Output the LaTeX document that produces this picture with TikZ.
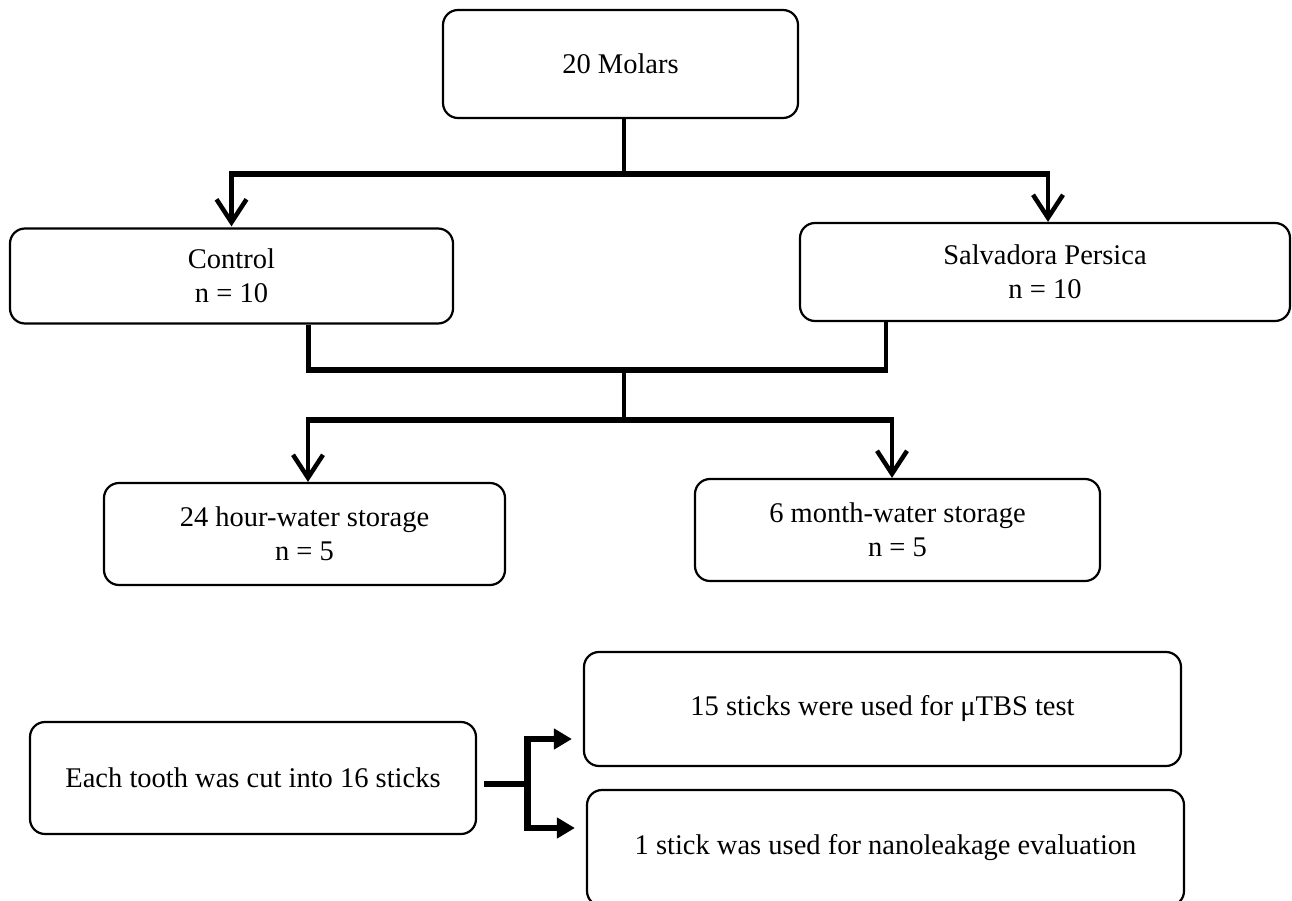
\documentclass[tikz,border=0pt]{standalone}
\usepackage{fontspec}
\setmainfont{Liberation Serif}
\usetikzlibrary{arrows.meta}
\tikzset{
  box/.style={draw, line width=2.2pt, rounded corners=15pt, align=center,
    inner sep=0pt, font=\fontsize{28.5}{34}\selectfont},
  conn/.style={line width=4.5pt},
  bar/.style={line width=6.5pt},
  varr/.style={conn, -{Straight Barb[length=23pt,width=30pt]}},
  tarr/.style={line width=6pt, -{Triangle[length=18pt,width=20pt]}, shorten >=11pt}
}
\begin{document}
\begin{tikzpicture}[x=1pt,y=-1pt]
\clip (0,0) rectangle (1292,901);
\fill[white] (0,0) rectangle (1292,901);
\node[box, minimum width=355pt, minimum height=108pt] (mol) at (620.5,64) {20 Molars};
\node[box, minimum width=443pt, minimum height=95pt] (ctl) at (231.5,276) {Control\\n = 10};
\node[box, minimum width=490pt, minimum height=98pt] (sal) at (1045,272) {Salvadora Persica\\n = 10};
\node[box, minimum width=401pt, minimum height=102pt] (h24) at (304.5,534) {24 hour-water storage\\n = 5};
\node[box, minimum width=405pt, minimum height=102pt] (m6) at (897.5,530) {6 month-water storage\\n = 5};
\node[box, minimum width=446pt, minimum height=112pt] (cut) at (253,778) {Each tooth was cut into 16 sticks};
\node[box, minimum width=597pt, minimum height=114pt] (s15) at (882.5,709) {15 sticks were used for μTBS test};
\node[box, minimum width=597pt, minimum height=116pt] (s1) at (885.5,848) {1 stick was used for nanoleakage evaluation};
% top split
\coordinate (j1) at (624,174);
\draw[conn] ([xshift=3.5pt]mol.south) -- (j1);
\draw[varr] ([xshift=2pt]j1) -| ([yshift=1pt]ctl.north);
\draw[varr] ([xshift=-2pt]j1) -| ([xshift=3pt]sal.north);
\draw[bar] ([xshift=-2.25pt]ctl.north |- j1) -- ([xshift=5.25pt]sal.north |- j1);
% merge
\coordinate (j2) at (624,370);
\coordinate (j3) at (624,420);
\draw[conn] ([xshift=77pt]ctl.south) |- (j2);
\draw[conn] ([xshift=-159pt]sal.south) |- (j2);
\draw[bar] ([xshift=74.75pt]ctl.south |- j2) -- ([xshift=-156.75pt]sal.south |- j2);
\draw[conn] (j2) -- (j3);
\draw[varr] ([xshift=2pt]j3) -| ([xshift=3.5pt]h24.north);
\draw[varr] ([xshift=-2pt]j3) -| ([xshift=-5.5pt]m6.north);
\draw[bar] ([xshift=1.25pt]h24.north |- j3) -- ([xshift=-3.25pt]m6.north |- j3);
% bottom bracket
\coordinate (j4) at (527,784);
\coordinate (j5) at (527,739);
\coordinate (j6) at (527,828);
\draw[line width=6.5pt, shorten <=7pt] (cut.east |- j4) -- (j4);
\draw[line width=7pt] ([yshift=3pt]j5) -- ([yshift=-3pt]j6);
\draw[tarr] (j5) -- (s15.west |- j5);
\draw[tarr] (j6) -- (s1.west |- j6);
\end{tikzpicture}
\end{document}
